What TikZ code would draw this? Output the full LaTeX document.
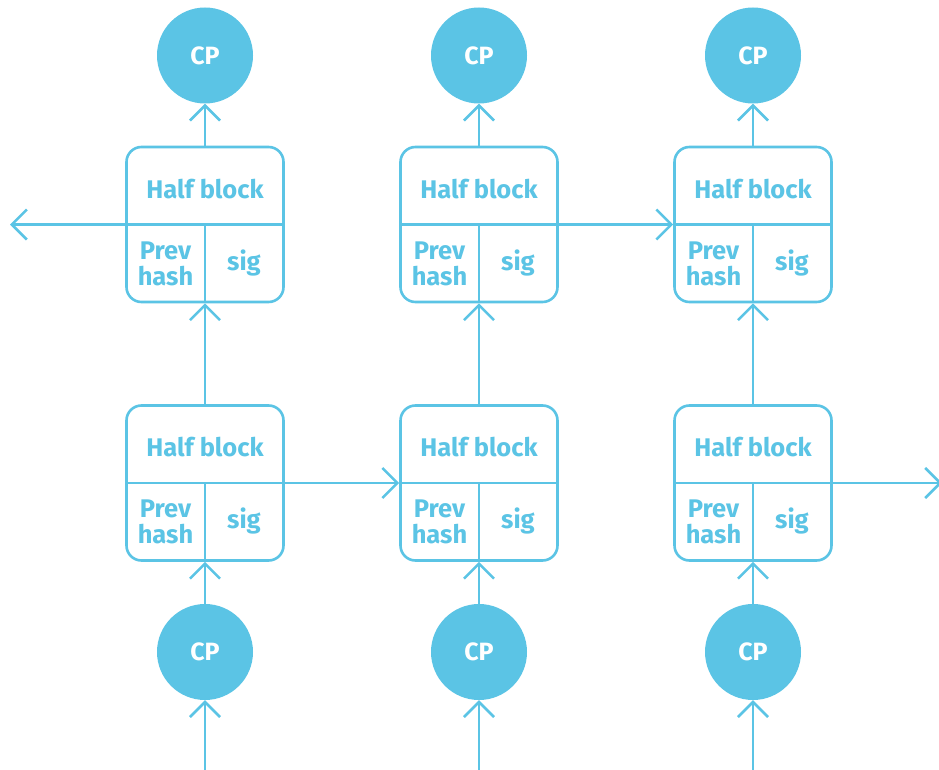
\documentclass[tikz,border=0pt]{standalone}
\usepackage{fontspec}
\setmainfont{Fira Sans}
\usetikzlibrary{arrows.meta}
\definecolor{chainblue}{HTML}{5BC4E5}

\begin{document}
\begin{tikzpicture}[x=1pt, y=-1pt,
  half/.style={draw=chainblue, line width=2.6pt, rounded corners=15pt, minimum width=157pt, minimum height=155pt, inner sep=0pt},
  seam/.style={draw=chainblue, line width=2.6pt},
  cp/.style={circle, fill=chainblue, minimum size=96pt, inner sep=0pt, text=white, font=\fontsize{25}{30}\selectfont\bfseries},
  lbl/.style={text=chainblue, font=\fontsize{25.5}{26}\selectfont\bfseries, align=center, inner sep=0pt},
  link/.style={draw=chainblue, line width=2.6pt, -{Straight Barb[length=15pt, width=30pt]}}]
\fill[white] (0,0) rectangle (939,770);
\useasboundingbox (0,0) rectangle (939,770);

% checkpoints
\node[cp] (ct1) at (205, 55.5) {CP};
\node[cp] (ct2) at (479, 55.5) {CP};
\node[cp] (ct3) at (753, 55.5) {CP};
\node[cp] (cb1) at (205, 652) {CP};
\node[cp] (cb2) at (479, 652) {CP};
\node[cp] (cb3) at (753, 652) {CP};

% top half blocks
\node[half] (t1) at (205, 224.5) {};
\draw[seam] (t1.west) -- (t1.east);
\draw[seam] (t1.center) -- (t1.south);
\node[lbl, anchor=base] at ([yshift=26.5pt]t1.center) {Half block};
\node[lbl] at ([xshift=-39.5pt, yshift=-39pt]t1.center) {Prev\\hash};
\node[lbl] at ([xshift=39pt, yshift=-38pt]t1.center) {sig};

\node[half] (t2) at (479, 224.5) {};
\draw[seam] (t2.west) -- (t2.east);
\draw[seam] (t2.center) -- (t2.south);
\node[lbl, anchor=base] at ([yshift=26.5pt]t2.center) {Half block};
\node[lbl] at ([xshift=-39.5pt, yshift=-39pt]t2.center) {Prev\\hash};
\node[lbl] at ([xshift=39pt, yshift=-38pt]t2.center) {sig};

\node[half] (t3) at (753, 224.5) {};
\draw[seam] (t3.west) -- (t3.east);
\draw[seam] (t3.center) -- (t3.south);
\node[lbl, anchor=base] at ([yshift=26.5pt]t3.center) {Half block};
\node[lbl] at ([xshift=-39.5pt, yshift=-39pt]t3.center) {Prev\\hash};
\node[lbl] at ([xshift=39pt, yshift=-38pt]t3.center) {sig};

% bottom half blocks
\node[half] (b1) at (205, 483) {};
\draw[seam] (b1.west) -- (b1.east);
\draw[seam] (b1.center) -- (b1.south);
\node[lbl, anchor=base] at ([yshift=26.5pt]b1.center) {Half block};
\node[lbl] at ([xshift=-39.5pt, yshift=-39pt]b1.center) {Prev\\hash};
\node[lbl] at ([xshift=39pt, yshift=-38pt]b1.center) {sig};

\node[half] (b2) at (479, 483) {};
\draw[seam] (b2.west) -- (b2.east);
\draw[seam] (b2.center) -- (b2.south);
\node[lbl, anchor=base] at ([yshift=26.5pt]b2.center) {Half block};
\node[lbl] at ([xshift=-39.5pt, yshift=-39pt]b2.center) {Prev\\hash};
\node[lbl] at ([xshift=39pt, yshift=-38pt]b2.center) {sig};

\node[half] (b3) at (753, 483) {};
\draw[seam] (b3.west) -- (b3.east);
\draw[seam] (b3.center) -- (b3.south);
\node[lbl, anchor=base] at ([yshift=26.5pt]b3.center) {Half block};
\node[lbl] at ([xshift=-39.5pt, yshift=-39pt]b3.center) {Prev\\hash};
\node[lbl] at ([xshift=39pt, yshift=-38pt]b3.center) {sig};

% loose ends
\coordinate (in1) at (205, 772);
\coordinate (in2) at (479, 772);
\coordinate (in3) at (753, 772);
\coordinate (out l) at (10, 224.5);
\coordinate (out r) at (942, 483);

% links
\draw[link] (in1) -- (cb1.south);
\draw[link] (in2) -- (cb2.south);
\draw[link] (in3) -- (cb3.south);
\draw[link] (cb1.north) -- (b1.south);
\draw[link] (cb2.north) -- (b2.south);
\draw[link] (cb3.north) -- (b3.south);
\draw[link] (b1.north) -- (t1.south);
\draw[link] (b2.north) -- (t2.south);
\draw[link] (b3.north) -- (t3.south);
\draw[link] (t1.north) -- (ct1.south);
\draw[link] (t2.north) -- (ct2.south);
\draw[link] (t3.north) -- (ct3.south);
\draw[link] (t1.west) -- (out l);
\draw[link] (t2.east) -- (t3.west);
\draw[link] (b1.east) -- (b2.west);
\draw[link] (b3.east) -- (out r);
\end{tikzpicture}
\end{document}
